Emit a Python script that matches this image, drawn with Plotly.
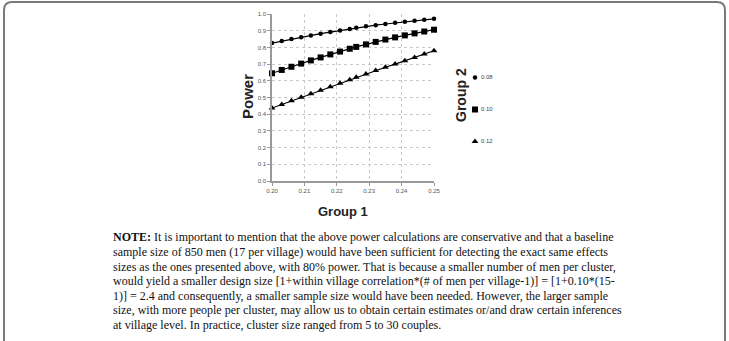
import plotly.graph_objects as go

# ---- data ----
group1 = [0.200, 0.203, 0.206, 0.209, 0.212, 0.215, 0.218, 0.221, 0.224,
          0.226, 0.229, 0.232, 0.235, 0.238, 0.241, 0.244, 0.247, 0.250]
power_008 = [0.826, 0.838, 0.850, 0.861, 0.872, 0.882, 0.892, 0.901, 0.910,
             0.918, 0.926, 0.933, 0.940, 0.947, 0.953, 0.959, 0.965, 0.971]
power_010 = [0.645, 0.665, 0.684, 0.703, 0.722, 0.740, 0.758, 0.775, 0.792,
             0.803, 0.818, 0.833, 0.847, 0.860, 0.872, 0.884, 0.895, 0.906]
power_012 = [0.437, 0.458, 0.480, 0.501, 0.522, 0.544, 0.565, 0.586, 0.607,
             0.621, 0.641, 0.661, 0.681, 0.700, 0.720, 0.740, 0.760, 0.780]
group2_labels = ["0.08", "0.10", "0.12"]
x_ticks = [0.20, 0.21, 0.22, 0.23, 0.24, 0.25]
y_ticks = [0.0, 0.1, 0.2, 0.3, 0.4, 0.5, 0.6, 0.7, 0.8, 0.9, 1.0]

note_lines = [
    "<b>NOTE:</b> It is important to mention that the above power calculations are conservative and that a baseline",
    "sample size of 850 men (17 per village) would have been sufficient for detecting the exact same effects",
    "sizes as the ones presented above, with 80% power. That is because a smaller number of men per cluster,",
    "would yield a smaller design size [1+within village correlation*(# of men per village-1)] = [1+0.10*(15-",
    "1)] = 2.4 and consequently, a smaller sample size would have been needed. However, the larger sample",
    "size, with more people per cluster, may allow us to obtain certain estimates or/and draw certain inferences",
    "at village level. In practice, cluster size ranged from 5 to 30 couples.",
]

# ---- layout geometry (pixels) ----
FW, FH = 729, 341
L, R, T, B = 272, 434, 14, 181
PW, PH = R - L, B - T


def px(x):
    return (x - L) / PW


def py(y):
    return (B - y) / PH


series = [power_008, power_010, power_012]
symbols = ["circle", "square", "triangle-up"]
sizes = [4.5, 6, 6]

fig = go.Figure()
for vals, sym, sz, lab in zip(series, symbols, sizes, group2_labels):
    fig.add_trace(go.Scatter(
        x=group1, y=vals, mode="lines+markers",
        line=dict(color="black", width=1.2),
        marker=dict(symbol=sym, size=sz, color="black"),
        showlegend=False, cliponaxis=False,
    ))
    fig.add_trace(go.Scatter(
        x=[None], y=[None], mode="markers", name=" ", legendgroup=lab,
        marker=dict(symbol=sym, size=sz, color="black"),
        showlegend=True,
    ))

axis_common = dict(
    showgrid=True, gridcolor="#c8c8c8", griddash="dot", gridwidth=1,
    showline=True, linecolor="#999999", linewidth=1.5,
    ticks="outside", ticklen=3, tickcolor="#999999",
    tickfont=dict(family="Arial, Liberation Sans", size=6, color="#555555"),
    zeroline=False,
)

fig.update_layout(
    width=FW, height=FH,
    margin=dict(l=L, r=FW - R, t=T, b=FH - B),
    paper_bgcolor="white", plot_bgcolor="white",
    xaxis=dict(range=[0.2, 0.25], tickvals=x_ticks, tickformat=".2f", **axis_common),
    yaxis=dict(range=[0.0, 1.0], tickvals=y_ticks, tickformat=".1f", **axis_common),
    legend=dict(
        x=px(455), y=py(63), xanchor="left", yanchor="top",
        font=dict(family="Arial, Liberation Sans", size=6, color="#444444"),
        tracegroupgap=13, itemwidth=30, bgcolor="rgba(0,0,0,0)",
    ),
    showlegend=True,
)

# legend labels
for lab, yy in zip(group2_labels, [77, 109, 141]):
    fig.add_annotation(x=px(479), y=py(yy), xref="paper", yref="paper", text=lab,
                       xanchor="left", yanchor="middle", showarrow=False,
                       font=dict(family="Arial, Liberation Sans", size=6, color="#444444"))

# axis titles
fig.add_annotation(x=px(247), y=py(97), xref="paper", yref="paper", text="<b>Power</b>",
                   textangle=-90, showarrow=False, xanchor="center", yanchor="middle",
                   font=dict(family="Arial, Liberation Sans", size=15, color="#222222"))
fig.add_annotation(x=px(343), y=py(211), xref="paper", yref="paper", text="<b>Group 1</b>",
                   showarrow=False, xanchor="center", yanchor="middle",
                   font=dict(family="Arial, Liberation Sans", size=13, color="#222222"))
fig.add_annotation(x=px(461), y=py(95), xref="paper", yref="paper", text="<b>Group 2</b>",
                   textangle=-90, showarrow=False, xanchor="center", yanchor="middle",
                   font=dict(family="Arial, Liberation Sans", size=14, color="#222222"))

# note text
line_y = [237, 252, 266.5, 281, 295.5, 310, 325]
for t, yy in zip(note_lines, line_y):
    fig.add_annotation(x=px(111), y=py(yy), xref="paper", yref="paper", text=t,
                       xanchor="left", yanchor="middle", showarrow=False,
                       font=dict(family="Liberation Serif, Times New Roman", size=12, color="#111111"))

# rounded frame
x0, x1, y0, y1, r = 4, 725, 2, 360, 8
path = (f"M {px(x0)},{py(y0 + r)} Q {px(x0)},{py(y0)} {px(x0 + r)},{py(y0)} "
        f"L {px(x1 - r)},{py(y0)} Q {px(x1)},{py(y0)} {px(x1)},{py(y0 + r)} "
        f"L {px(x1)},{py(y1)} M {px(x0)},{py(y0 + r)} L {px(x0)},{py(y1)}")
fig.add_shape(type="path", path=path, xref="paper", yref="paper",
              line=dict(color="#7a7a7a", width=2))

fig.write_html("out.html")
